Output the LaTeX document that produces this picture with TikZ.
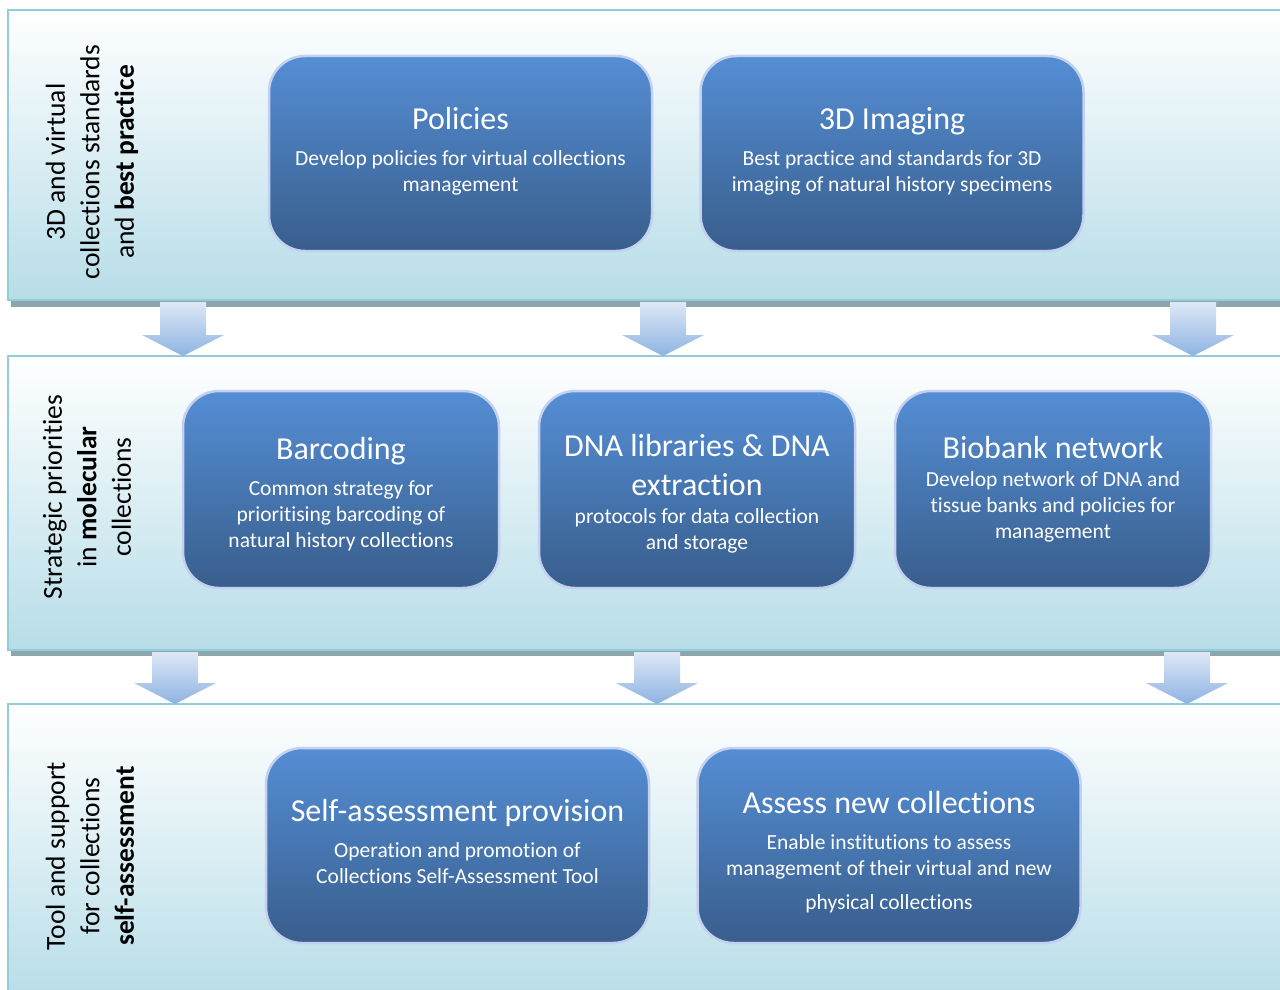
\documentclass[tikz,border=0pt]{standalone}
\usepackage{fontspec}
\setmainfont{Carlito}[Ligatures=NoCommon]
\definecolor{bandB}{RGB}{183,221,232}
\definecolor{bandE}{RGB}{146,205,221}
\definecolor{bandS}{RGB}{140,166,172}
\definecolor{cardT}{RGB}{85,142,213}
\definecolor{cardB}{RGB}{56,94,140}
\definecolor{cardE}{RGB}{196,208,240}
\definecolor{arrT}{RGB}{222,232,246}
\definecolor{arrB}{RGB}{141,179,226}
\newcommand{\BL}{8}
\newcommand{\BR}{1290}
\newcommand{\ttl}[1]{{\fontsize{32}{39}\selectfont #1}}

\begin{document}
\begin{tikzpicture}[x=1pt, y=-1pt,
    band/.style={top color=white, bottom color=bandB, draw=bandE, line width=2.5pt},
    shadow/.style={fill=bandS},
    card/.style={rounded corners=36pt, top color=cardT, bottom color=cardB, draw=cardE,
      line width=2.5pt},
    cardtext/.style={text=white, align=center, inner sep=0pt,
      font=\fontsize{21.5}{26}\selectfont},
    wide/.style={minimum width=383pt, minimum height=195pt},
    mid/.style={minimum width=316pt, minimum height=197pt},
    side/.style={rotate=90, align=center, font=\fontsize{27.5}{34.5}\selectfont},
    blockarrow/.style={top color=arrT, bottom color=arrB},
  ]
  \useasboundingbox (0,0) rectangle (1280,990);

  % three horizontal bands with their drop shadows
  \fill[shadow] (11,300) rectangle (\BR,307);
  \fill[shadow] (11,650) rectangle (\BR,656);
  \path[band] (\BL,10) rectangle (\BR,300);
  \path[band] (\BL,356) rectangle (\BR,650);
  \path[band] (\BL,704) rectangle (\BR,1000);

  % block arrows between the bands
  \foreach \ax in {183,663,1193} {
    \path[blockarrow] (\ax-23,302) -- (\ax+23,302) -- (\ax+23,335) -- (\ax+41,335)
      -- (\ax,356) -- (\ax-41,335) -- (\ax-23,335) -- cycle;
  }
  \foreach \ax in {175,657,1187} {
    \path[blockarrow] (\ax-23,652) -- (\ax+23,652) -- (\ax+23,683) -- (\ax+41,683)
      -- (\ax,704) -- (\ax-41,683) -- (\ax-23,683) -- cycle;
  }

  % band captions
  \node[side] (capA) at (92,162) {3D and virtual\\collections standards\\and \textbf{best practice}};
  \node[side] (capB) at (87,497) {Strategic priorities\\in \textbf{molecular}\\collections};
  \node[side] (capC) at (90,856) {Tool and support\\for collections\\\textbf{self-assessment}};

  % first band
  \node[card, wide] (policies) at (460.5,153.5) {};
  \node[cardtext, yshift=2.5pt] (policiesT) at (policies)
    {\ttl{Policies}\\[10pt]Develop policies for virtual collections\\management};
  \node[card, wide] (imaging) at (892,153.5) {};
  \node[cardtext, yshift=2.5pt] (imagingT) at (imaging)
    {\ttl{3D Imaging}\\[10pt]Best practice and standards for 3D\\imaging of natural history specimens};

  % second band
  \node[card, mid] (barcoding) at (341,489.5) {};
  \node[cardtext, yshift=-4.5pt] (barcodingT) at (barcoding)
    {\ttl{Barcoding}\\[10pt]Common strategy for\\prioritising barcoding of\\natural history collections};
  \node[card, mid] (dna) at (697,489.5) {};
  \node[cardtext, yshift=-4.5pt] (dnaT) at (dna)
    {\ttl{DNA libraries \& DNA}\\[13pt]\ttl{extraction}\\[2pt]protocols for data collection\\and storage};
  \node[card, mid] (biobank) at (1053,489.5) {};
  \node[cardtext] (biobankT) at (biobank)
    {\ttl{Biobank network}\\[2pt]Develop network of DNA and\\tissue banks and policies for\\management};

  % third band
  \node[card, wide] (selfass) at (457.5,845.5) {};
  \node[cardtext, yshift=4pt] (selfassT) at (selfass)
    {\ttl{Self-assessment provision}\\[10pt]Operation and promotion of\\Collections Self-Assessment Tool};
  \node[card, wide] (assess) at (889,845.5) {};
  \node[cardtext, yshift=-6.5pt] (assessT) at (assess)
    {\ttl{Assess new collections}\\[10pt]Enable institutions to assess\\management of their virtual and new\\[8pt]physical collections};

\end{tikzpicture}
\end{document}
